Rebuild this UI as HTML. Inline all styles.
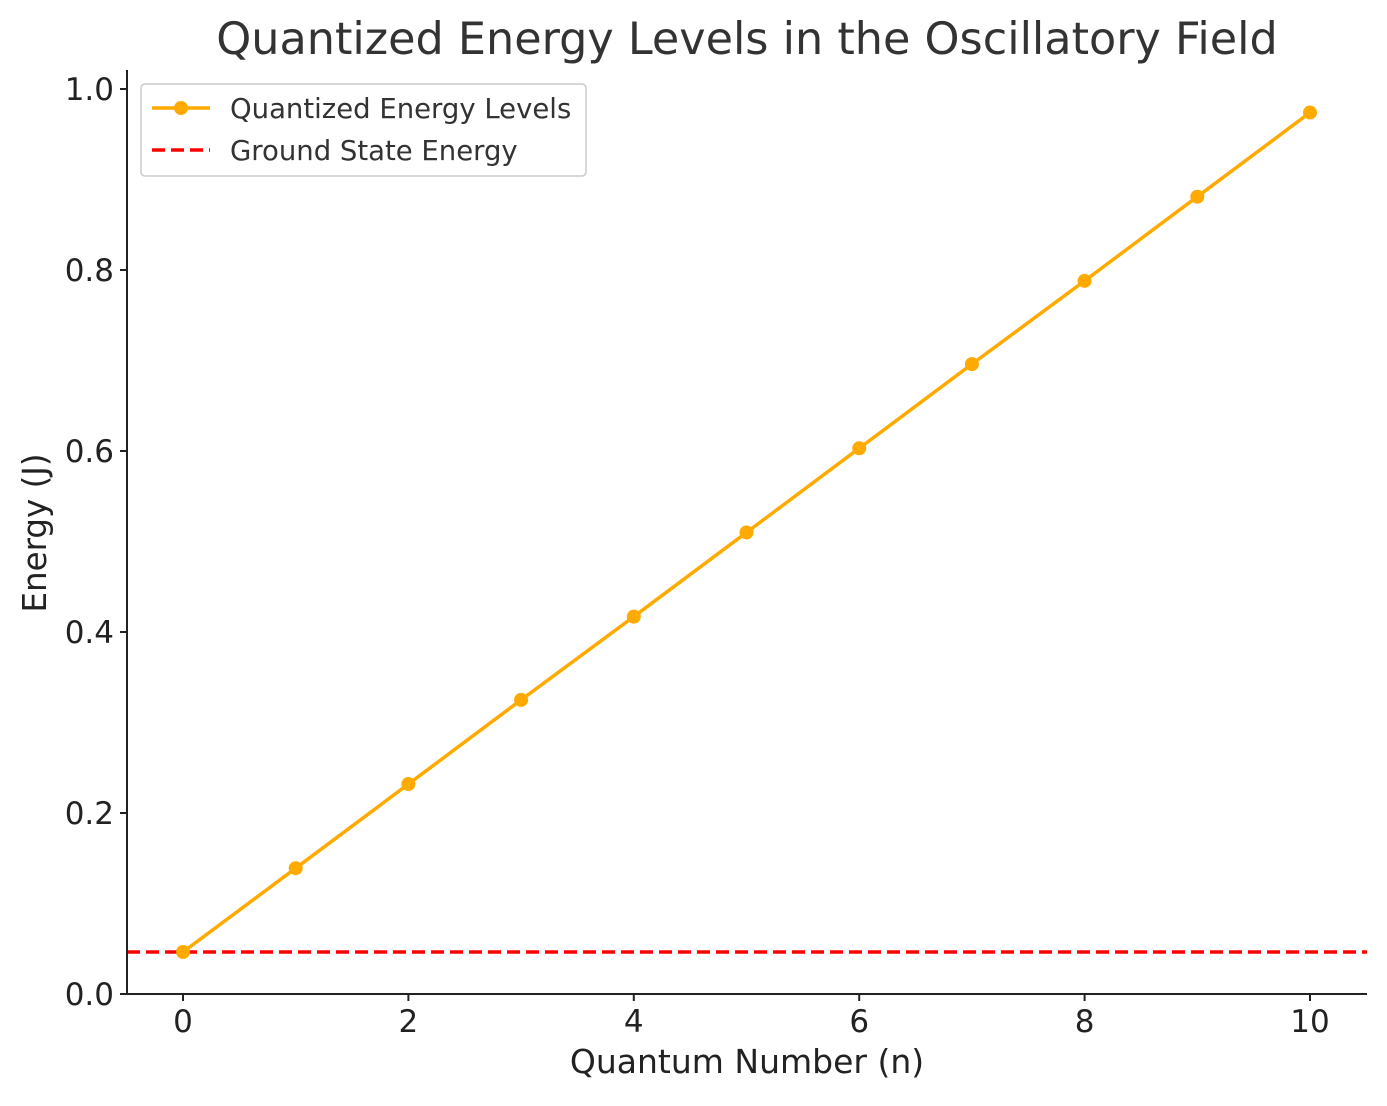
<!DOCTYPE html>
<html><head><meta charset="utf-8"><style>
body{margin:0;background:#fff;}
svg text{font-family:"DejaVu Sans","Liberation Sans",sans-serif;}
</style></head><body>
<svg id="chart" width="1387" height="1101" viewBox="0 0 1387 1101" xmlns="http://www.w3.org/2000/svg">
<text x="747" y="54" text-anchor="middle" font-size="44.5" fill="#333">Quantized Energy Levels in the Oscillatory Field</text>
<g id="plot"></g>
<text x="747" y="1073" text-anchor="middle" font-size="33" fill="#222">Quantum Number (n)</text>
<text x="0" y="0" transform="translate(46,533) rotate(-90)" text-anchor="middle" font-size="32.5" fill="#222">Energy (J)</text>
<g>
<rect x="141" y="84" width="445" height="92" rx="4" fill="#fff" stroke="#ccc" stroke-width="1.5"/>
<g>
<line x1="152" y1="108" x2="210" y2="108" stroke="#FFAA00" stroke-width="3.5"/>
<circle cx="181" cy="108" r="7" fill="#FFAA00"/>
<text x="230" y="118" font-size="27.5" fill="#333">Quantized Energy Levels</text>
</g>
<g>
<line x1="152" y1="150" x2="210" y2="150" stroke="#FF0000" stroke-width="3.5" stroke-dasharray="13,6"/>
<text x="230" y="160" font-size="27.5" fill="#333">Ground State Energy</text>
</g>
</g>
</svg>
<script>
const quantumNumbers = [0,1,2,3,4,5,6,7,8,9,10];
const energies = [0.0464,0.139,0.232,0.325,0.417,0.510,0.603,0.696,0.788,0.881,0.974];
const groundEnergy = [0.0464];
const xTicks = [0,2,4,6,8,10];
const yTicks = [0.0,0.2,0.4,0.6,0.8,1.0];

const NS="http://www.w3.org/2000/svg";
const g=document.getElementById('plot');
const X0=127,X1=1367,Y0=994,YT=70;
const xs=v=>183+(1310-183)*v/10;
const ys=v=>994-905*v;
function mk(t,a,p){const e=document.createElementNS(NS,t);for(const k in a)e.setAttribute(k,a[k]);(p||g).appendChild(e);return e;}

const gl=mk('line',{x1:X0,x2:X1,y1:ys(groundEnergy[0]),y2:ys(groundEnergy[0]),stroke:'#FF0000','stroke-width':3.5,'stroke-dasharray':'13,6'});



const pl=mk('polyline',{points:quantumNumbers.map((n,i)=>xs(n)+','+ys(energies[i])).join(' '),fill:'none',stroke:'#FFAA00','stroke-width':3.5});


quantumNumbers.forEach((n,i)=>{
  const c=mk('circle',{cx:xs(n),cy:ys(energies[i]),r:7,fill:'#FFAA00'});
  
  
});

const ax=mk('line',{x1:X0,x2:X1,y1:Y0,y2:Y0,stroke:'#222','stroke-width':2});


const ay=mk('line',{x1:X0,x2:X0,y1:YT,y2:Y0,stroke:'#222','stroke-width':2});



xTicks.forEach(v=>{
  mk('line',{x1:xs(v),x2:xs(v),y1:Y0,y2:Y0+7,stroke:'#222','stroke-width':2});
  const t=mk('text',{x:xs(v),y:Y0+38,'text-anchor':'middle','font-size':31,fill:'#222'});
  t.textContent=v;
  
  
});
yTicks.forEach(v=>{
  mk('line',{x1:X0-7,x2:X0,y1:ys(v),y2:ys(v),stroke:'#222','stroke-width':2});
  const t=mk('text',{x:X0-13,y:ys(v)+11,'text-anchor':'end','font-size':31,fill:'#222'});
  t.textContent=v.toFixed(1);
  
  
});
</script>
</body></html>
